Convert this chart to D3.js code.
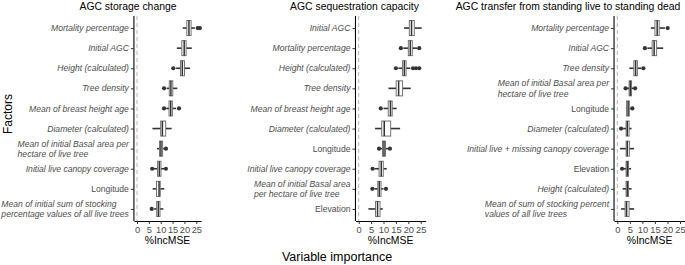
<!DOCTYPE html>
<html><head><meta charset="utf-8">
<script src="https://cdn.jsdelivr.net/npm/d3@7"></script>
<style>body{margin:0;background:#fff}svg{font-family:"Liberation Sans",Arial,Helvetica,sans-serif}</style>
</head><body><svg id="chart" width="685" height="265"></svg>
<script>
// ---------- data ----------
const panelTitles = ["AGC storage change", "AGC sequestration capacity", "AGC transfer from standing live to standing dead"];
const xTicks = [0, 5, 10, 15, 20, 25];
const plainLabels = ["Longitude", "Elevation"];

const p1Factors = ["Mortality percentage", "Initial AGC", "Height (calculated)", "Tree density", "Mean of breast height age", "Diameter (calculated)", "Mean of initial Basal area per\nhectare of live tree", "Initial live canopy coverage", "Longitude", "Mean of initial sum of stocking\npercentage values of all live trees"];
const p1Low  = [19.3, 16.8, 16.5, 12.5, 12.3, 6.5, 8.4, 7.0, 6.6, 7.2];
const p1Q1   = [21.0, 18.9, 18.3, 13.6, 13.5, 10.0, 9.5, 8.7, 8.2, 8.3];
const p1Med  = [21.9, 19.9, 19.1, 14.3, 14.2, 10.7, 10.1, 9.4, 9.3, 9.0];
const p1Q3   = [22.8, 20.7, 20.0, 15.1, 14.9, 12.1, 10.8, 10.1, 9.8, 9.7];
const p1High = [24.4, 23.1, 22.4, 17.0, 16.5, 14.6, 11.3, 11.6, 11.5, 11.1];
const p1Out  = [[25.6, 26.5], [], [15.3], [11.4], [11.4, 17.7], [], [12.2], [6.4, 12.2], [], [6.2]];

const p2Factors = ["Initial AGC", "Mortality percentage", "Height (calculated)", "Tree density", "Mean of breast height age", "Diameter (calculated)", "Longitude", "Initial live canopy coverage", "Mean of initial Basal area\nper hectare of live tree", "Elevation"];
const p2Low  = [18.3, 18.0, 16.0, 12.0, 10.0, 6.6, 8.8, 6.4, 6.3, 3.9];
const p2Q1   = [20.4, 20.0, 17.7, 15.1, 11.9, 9.3, 9.6, 8.2, 7.7, 6.8];
const p2Med  = [21.3, 20.8, 18.4, 16.1, 12.8, 10.3, 10.2, 9.1, 8.3, 7.6];
const p2Q3   = [22.4, 21.6, 19.1, 17.7, 13.5, 12.9, 10.8, 9.9, 9.0, 8.6];
const p2High = [25.4, 23.5, 20.8, 21.0, 15.3, 16.7, 11.8, 11.3, 10.0, 9.7];
const p2Out  = [[], [17.0, 24.4], [15.0, 21.9, 23.1, 24.4], [], [8.9], [], [8.2, 12.6], [5.6], [5.5, 11.0], []];

const p3Factors = ["Mortality percentage", "Initial AGC", "Tree density", "Mean of initial Basal area per\nhectare of live tree", "Longitude", "Diameter (calculated)", "Initial live + missing canopy coverage", "Elevation", "Height (calculated)", "Mean of sum of stocking percent\nvalues of all live trees"];
const p3Low  = [13.4, 12.0, 4.8, 3.8, 3.5, 2.3, 1.1, 2.6, 2.1, 1.5];
const p3Q1   = [15.0, 13.9, 6.6, 4.7, 3.7, 3.5, 3.5, 3.5, 3.5, 3.1];
const p3Med  = [15.9, 14.7, 7.3, 5.2, 4.3, 4.0, 4.0, 4.0, 4.0, 3.7];
const p3Q3   = [16.7, 15.7, 8.0, 5.7, 4.8, 4.7, 4.8, 4.5, 4.5, 4.7];
const p3High = [19.0, 18.3, 9.5, 6.4, 5.3, 5.7, 6.7, 5.5, 5.7, 6.7];
const p3Out  = [[20.1], [11.0], [10.4], [3.3, 7.1], [6.0], [1.5], [], [1.9], [], []];

// ---------- layout ----------
const panels = [
  {factors: p1Factors, low: p1Low, q1: p1Q1, med: p1Med, q3: p1Q3, high: p1High, out: p1Out, x0: 137, x25: 196.3, titleX: 128},
  {factors: p2Factors, low: p2Low, q1: p2Q1, med: p2Med, q3: p2Q3, high: p2High, out: p2Out, x0: 358.7, x25: 420.7, titleX: 354.5},
  {factors: p3Factors, low: p3Low, q1: p3Q1, med: p3Med, q3: p3Q3, high: p3High, out: p3Out, x0: 617.3, x25: 680, titleX: 568}
];
const plotTop = 16, plotBottom = 221;
const xDomain = [-1.3, 27];
const svg = d3.select("#chart");

panels.forEach((p, pi) => {
  const slope = (p.x25 - p.x0) / 25;
  const x = d3.scaleLinear().domain(xDomain).range([p.x0 + xDomain[0] * slope, p.x0 + xDomain[1] * slope]);
  const y = d3.scalePoint().domain(p.factors).range([plotTop, plotBottom]).padding(0.6);
  const bh = y.step() * 0.75;
  const g = svg.append("g");

  g.append("text").attr("x", p.titleX).attr("y", 9.5).attr("text-anchor", "middle")
    .attr("font-size", 10.4).attr("fill", "#000").text(panelTitles[pi]);

  g.append("line").attr("x1", x(0)).attr("x2", x(0)).attr("y1", plotTop).attr("y2", plotBottom)
    .attr("stroke", "#b5b5b5").attr("stroke-width", 1).attr("stroke-dasharray", "4,3");

  const xa = g.append("g").attr("transform", `translate(0,${plotBottom})`)
    .call(d3.axisBottom(x).tickValues(xTicks).tickSize(3).tickPadding(2).tickSizeOuter(0));
  xa.select(".domain").attr("stroke", "#000").attr("stroke-width", 1.1);
  xa.selectAll(".tick line").attr("stroke", "#333");
  xa.selectAll(".tick text").attr("font-size", 9.3).attr("fill", "#4d4d4d").attr("font-family", "Liberation Sans, Arial, sans-serif");
  g.append("text").attr("x", (x(xDomain[0]) + x(xDomain[1])) / 2).attr("y", 244).attr("text-anchor", "middle")
    .attr("font-size", 10.4).attr("fill", "#000").text("%IncMSE");

  const ya = g.append("g").attr("transform", `translate(${x(xDomain[0])},0)`)
    .call(d3.axisLeft(y).tickSize(3).tickSizeOuter(0).tickFormat(""));
  ya.select(".domain").attr("stroke", "#000").attr("stroke-width", 1.1).attr("d", `M0,${plotTop}V${plotBottom}`);
  ya.selectAll(".tick line").attr("stroke", "#333");

  const ax = x(xDomain[0]) - 5;
  p.factors.forEach(f => {
    const lines = f.split("\n");
    const italic = !plainLabels.includes(f);
    const t = g.append("text").attr("font-size", 8.6).attr("fill", "#4d4d4d")
      .attr("font-style", italic ? "italic" : "normal");
    const cy = y(f);
    if (lines.length === 1) {
      t.attr("x", ax).attr("y", cy + 3.1).attr("text-anchor", "end").text(f);
    } else {
      const spans = lines.map((l, i) => t.append("tspan").attr("y", cy + 3.1 + (i - (lines.length - 1) / 2) * 10.2).text(l));
      const w = d3.max(spans, s => s.node().getComputedTextLength());
      spans.forEach(s => s.attr("x", ax - w));
    }
  });

  p.factors.forEach((f, i) => {
    const cy = y(f);
    g.append("line").attr("x1", x(p.low[i])).attr("x2", x(p.q1[i])).attr("y1", cy).attr("y2", cy)
      .attr("stroke", "#333").attr("stroke-width", 1.6);
    g.append("line").attr("x1", x(p.q3[i])).attr("x2", x(p.high[i])).attr("y1", cy).attr("y2", cy)
      .attr("stroke", "#333").attr("stroke-width", 1.6);
    g.append("rect").attr("x", x(p.q1[i])).attr("y", cy - bh / 2)
      .attr("width", x(p.q3[i]) - x(p.q1[i])).attr("height", bh)
      .attr("fill", "#fff").attr("stroke", "#666").attr("stroke-width", 0.9);
    g.append("line").attr("x1", x(p.med[i])).attr("x2", x(p.med[i])).attr("y1", cy - bh / 2).attr("y2", cy + bh / 2)
      .attr("stroke", "#333").attr("stroke-width", 1.5);
    p.out[i].forEach(o => {
      g.append("circle").attr("cx", x(o)).attr("cy", cy).attr("r", 2.1).attr("fill", "#333");
    });
  });
});

svg.append("text").attr("x", 337).attr("y", 261).attr("text-anchor", "middle")
  .attr("font-size", 12.5).attr("fill", "#000").text("Variable importance");
svg.append("text").attr("transform", "translate(12,114) rotate(-90)").attr("text-anchor", "middle")
  .attr("font-size", 12).attr("fill", "#000").text("Factors");
</script></body></html>
